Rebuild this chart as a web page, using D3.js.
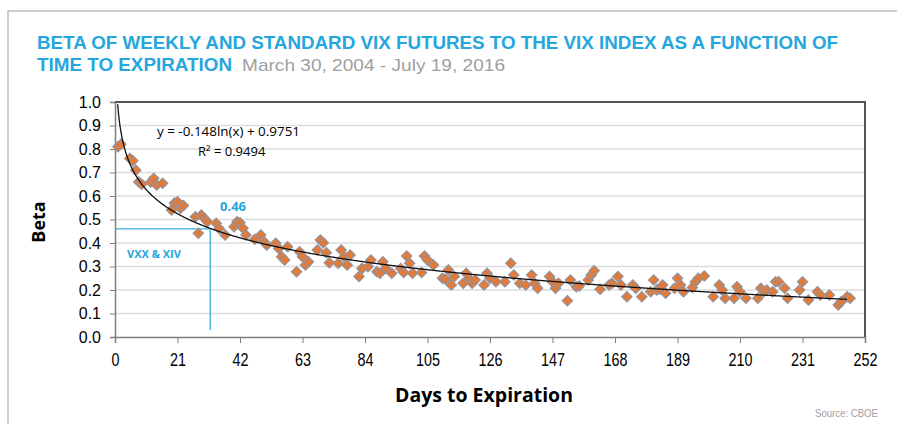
<!DOCTYPE html>
<html>
<head>
<meta charset="utf-8">
<script src="https://cdn.jsdelivr.net/npm/d3@7"></script>
<style>
  body { margin: 0; background: #fff; }
  svg { display: block; }
</style>
</head>
<body>
<div id="root"></div>
<script>
// Days to expiration
const days = [1, 2, 5, 6, 7, 8, 9, 12, 13, 14, 16, 19, 20, 21, 22, 23, 27, 28, 29, 30,
  31, 34, 35, 37, 40, 41, 42, 43, 44, 47, 49, 50, 51, 54, 55, 56, 57, 58, 61, 62,
  63, 64, 65, 68, 69, 70, 71, 72, 75, 76, 77, 78, 79, 82, 83, 85, 86, 88, 89, 90,
  91, 93, 96, 97, 98, 99, 100, 103, 104, 105, 107, 110, 111, 112, 113, 114, 117, 118, 119, 120,
  121, 124, 125, 126, 128, 131, 133, 134, 136, 138, 140, 141, 142, 146, 147, 148, 149, 152, 153, 155,
  156, 159, 160, 161, 163, 166, 167, 169, 170, 172, 174, 175, 177, 180, 181, 182, 183, 184, 185, 188,
  189, 190, 191, 194, 195, 196, 198, 201, 203, 204, 205, 208, 209, 210, 212, 216, 217, 218, 219, 221,
  222, 223, 225, 226, 230, 231, 233, 236, 237, 240, 243, 244, 246, 247];

// Beta for each day
const beta = [0.81, 0.82, 0.76, 0.75, 0.71, 0.66, 0.65, 0.66, 0.675, 0.647, 0.654, 0.54, 0.57, 0.576, 0.548, 0.56, 0.512, 0.441, 0.519, 0.505,
  0.49, 0.484, 0.462, 0.434, 0.469, 0.49, 0.486, 0.463, 0.434, 0.416, 0.434, 0.406, 0.391, 0.399, 0.377, 0.342, 0.328, 0.384, 0.278, 0.363,
  0.342, 0.306, 0.32, 0.37, 0.413, 0.401, 0.359, 0.316, 0.314, 0.37, 0.342, 0.306, 0.349, 0.257, 0.292, 0.299, 0.328, 0.278, 0.271, 0.32,
  0.292, 0.271, 0.292, 0.274, 0.345, 0.314, 0.271, 0.274, 0.345, 0.328, 0.306, 0.25, 0.246, 0.285, 0.221, 0.257, 0.229, 0.271, 0.25, 0.229,
  0.243, 0.221, 0.271, 0.25, 0.235, 0.235, 0.314, 0.264, 0.229, 0.221, 0.264, 0.229, 0.207, 0.257, 0.235, 0.207, 0.229, 0.154, 0.243, 0.214,
  0.217, 0.243, 0.264, 0.282, 0.203, 0.221, 0.229, 0.257, 0.221, 0.171, 0.221, 0.207, 0.171, 0.193, 0.243, 0.2, 0.203, 0.221, 0.186, 0.207,
  0.25, 0.221, 0.193, 0.211, 0.235, 0.25, 0.26, 0.171, 0.221, 0.2, 0.165, 0.165, 0.214, 0.193, 0.165, 0.165, 0.207, 0.193, 0.2, 0.193,
  0.235, 0.235, 0.207, 0.165, 0.2, 0.235, 0.157, 0.193, 0.179, 0.179, 0.136, 0.15, 0.171, 0.165];

const xTicks = [0, 21, 42, 63, 84, 105, 126, 147, 168, 189, 210, 231, 252];
const yTicks = [0, 0.1, 0.2, 0.3, 0.4, 0.5, 0.6, 0.7, 0.8, 0.9, 1.0];

// log trend line y = a ln(x) + b
const fitA = -0.148, fitB = 0.9751;
const markLevel = 0.46;   // VXX & XIV beta
const markDay = 32;

const width = 897, height = 424;
const blue = "#25a6dc";

const svg = d3.select("#root").append("svg")
  .attr("width", width)
  .attr("height", height);

// outer frame
svg.append("path")
  .attr("d", "M8,424 V11 H897")
  .attr("fill", "none")
  .attr("stroke", "#bdbdbd")
  .attr("stroke-width", 1.5);

// title
svg.append("text")
  .attr("x", 37).attr("y", 49)
  .attr("textLength", 801).attr("lengthAdjust", "spacingAndGlyphs")
  .style("font-family", "'Liberation Sans', Arial, sans-serif")
  .style("font-weight", "bold").style("font-size", "18px")
  .attr("fill", blue)
  .text("BETA OF WEEKLY AND STANDARD VIX FUTURES TO THE VIX INDEX AS A FUNCTION OF");

svg.append("text")
  .attr("x", 37).attr("y", 71)
  .attr("textLength", 195).attr("lengthAdjust", "spacingAndGlyphs")
  .style("font-family", "'Liberation Sans', Arial, sans-serif")
  .style("font-weight", "bold").style("font-size", "18px")
  .attr("fill", blue)
  .text("TIME TO EXPIRATION");

svg.append("text")
  .attr("x", 242).attr("y", 71)
  .attr("textLength", 263).attr("lengthAdjust", "spacingAndGlyphs")
  .style("font-family", "'Liberation Sans', Arial, sans-serif")
  .style("font-size", "17px")
  .attr("fill", "#a0a0a0")
  .text("March 30, 2004 - July 19, 2016");

// scales
const x = d3.scaleLinear().domain([0, 252]).range([115, 865]);
const y = d3.scaleLinear().domain([0, 1]).range([337, 102]);

// gridlines
svg.append("g")
  .selectAll("line")
  .data(yTicks.slice(1))
  .join("line")
  .attr("x1", x(0)).attr("x2", x(252))
  .attr("y1", d => y(d)).attr("y2", d => y(d))
  .attr("stroke", "#dcdcdc")
  .attr("stroke-width", 1.5);

// y axis
const yAxis = svg.append("g")
  .attr("transform", `translate(${x(0)},0)`)
  .call(d3.axisLeft(y).tickValues(yTicks).tickFormat(d3.format(".1f")).tickSize(5).tickPadding(9));
yAxis.select(".domain").attr("stroke", "#7f7f7f").attr("stroke-width", 1.5);
yAxis.selectAll(".tick line").attr("stroke", "#7f7f7f");
yAxis.selectAll("text")
  .style("font-family", "'Liberation Sans', Arial, sans-serif")
  .style("font-size", "16px")
  .attr("fill", "#000");

// x axis, labels squeezed to look like a narrow face
const xAxis = svg.append("g")
  .attr("transform", `translate(0,${y(0)})`)
  .call(d3.axisBottom(x).tickValues(xTicks).tickSize(6).tickPadding(10));
xAxis.select(".domain").attr("stroke", "#7f7f7f").attr("stroke-width", 1.5);
xAxis.selectAll(".tick line").attr("stroke", "#7f7f7f");
xAxis.selectAll("text")
  .attr("transform", "scale(0.8,1)")
  .style("font-family", "'Liberation Sans', Arial, sans-serif")
  .style("font-size", "18px")
  .attr("fill", "#000");

// plot border top and right
svg.append("path")
  .attr("d", `M${x(0)},${y(1)} H${x(252)} V${y(0)}`)
  .attr("fill", "none")
  .attr("stroke", "#555")
  .attr("stroke-width", 2);

// VXX & XIV reference lines
svg.append("path")
  .attr("d", `M${x(0)},${y(markLevel)} H${x(markDay)} V${y(0.03)}`)
  .attr("fill", "none")
  .attr("stroke", "#3aaed8")
  .attr("stroke-width", 1.3);

svg.append("text")
  .attr("x", 127).attr("y", 258)
  .style("font-family", "'Open Sans', sans-serif")
  .style("font-weight", "bold").style("font-size", "11px")
  .attr("fill", blue)
  .text("VXX & XIV");

svg.append("text")
  .attr("x", 220).attr("y", 211)
  .style("font-family", "'Open Sans', sans-serif")
  .style("font-weight", "bold").style("font-size", "13px")
  .attr("fill", blue)
  .text(markLevel.toFixed(2));

// scatter points as diamonds
const points = days.map((d, i) => ({ day: d, beta: beta[i] }));
svg.append("g")
  .selectAll("path")
  .data(points)
  .join("path")
  .attr("d", d3.symbol(d3.symbolSquare, 56))
  .attr("transform", d => `translate(${x(d.day)},${y(d.beta)}) rotate(45)`)
  .attr("fill", "#e07b3c")
  .attr("stroke", "#8b95a5")
  .attr("stroke-width", 1);

// trend line
const fitDays = d3.range(0.9, 246.01, 0.25);
const line = d3.line()
  .x(d => x(d))
  .y(d => y(fitA * Math.log(d) + fitB));
svg.append("path")
  .datum(fitDays)
  .attr("d", line)
  .attr("fill", "none")
  .attr("stroke", "#111")
  .attr("stroke-width", 1.3);

// equation
svg.append("text")
  .attr("x", 157).attr("y", 136)
  .attr("textLength", 143).attr("lengthAdjust", "spacingAndGlyphs")
  .style("font-family", "'Open Sans', sans-serif")
  .style("font-size", "13px")
  .attr("fill", "#000")
  .text("y = -0.148ln(x) + 0.9751");
svg.append("text")
  .attr("x", 198).attr("y", 156)
  .style("font-family", "'Open Sans', sans-serif")
  .style("font-size", "13px")
  .attr("fill", "#000")
  .text("R² = 0.9494");

// axis titles
svg.append("text")
  .attr("x", 484).attr("y", 402)
  .attr("text-anchor", "middle")
  .attr("textLength", 178).attr("lengthAdjust", "spacingAndGlyphs")
  .style("font-family", "'Open Sans', sans-serif")
  .style("font-weight", "bold").style("font-size", "19px")
  .attr("fill", "#000")
  .text("Days to Expiration");

svg.append("text")
  .attr("transform", "translate(45,222) rotate(-90)")
  .attr("text-anchor", "middle")
  .style("font-family", "'Open Sans', sans-serif")
  .style("font-weight", "bold").style("font-size", "18px")
  .attr("fill", "#000")
  .text("Beta");

svg.append("text")
  .attr("x", 878).attr("y", 417)
  .attr("text-anchor", "end")
  .attr("textLength", 63).attr("lengthAdjust", "spacingAndGlyphs")
  .style("font-family", "'Liberation Sans', Arial, sans-serif")
  .style("font-size", "11px")
  .attr("fill", "#a0a0a0")
  .text("Source: CBOE");
</script>
</body>
</html>
